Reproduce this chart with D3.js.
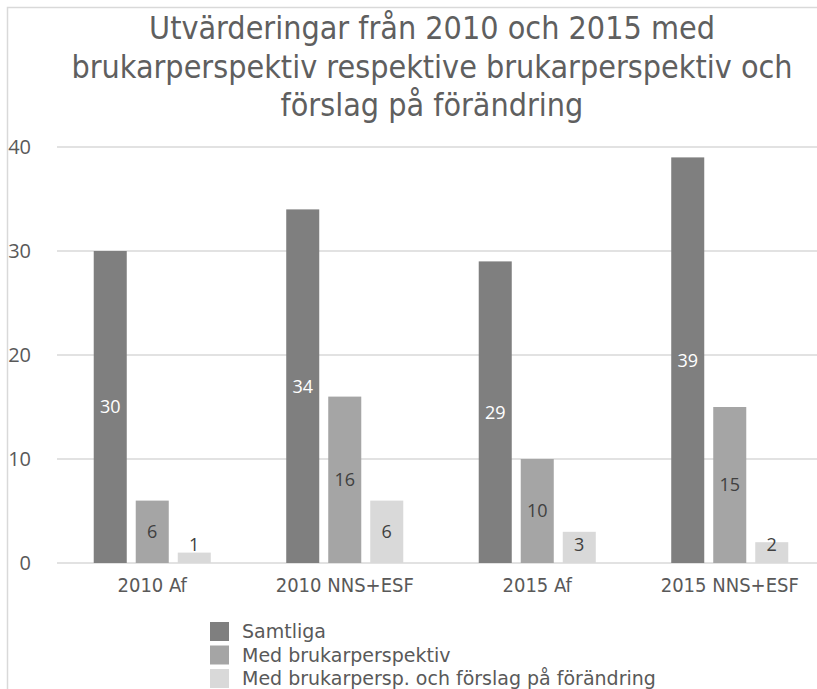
<!DOCTYPE html>
<html>
<head>
<meta charset="utf-8">
<script src="https://cdn.jsdelivr.net/npm/d3@7"></script>
<style>
  body { margin: 0; background: #fff; }
  svg { display: block; }
</style>
</head>
<body>
<div id="wrapper"></div>
<script>
// Data
const titleLines = [
  "Utvärderingar från 2010 och 2015 med",
  "brukarperspektiv respektive brukarperspektiv och",
  "förslag på förändring"
];
const categories = ["2010 Af", "2010 NNS+ESF", "2015 Af", "2015 NNS+ESF"];
const seriesNames = ["Samtliga", "Med brukarperspektiv", "Med brukarpersp. och förslag på förändring"];
const samtliga = [30, 34, 29, 39];
const medBrukarperspektiv = [6, 16, 10, 15];
const medForslag = [1, 6, 3, 2];
const yTicks = [0, 10, 20, 30, 40];

const seriesValues = [samtliga, medBrukarperspektiv, medForslag];
const colors = ["#7f7f7f", "#a5a5a5", "#d9d9d9"];
const labelColors = ["#ffffff", "#404040", "#404040"];

const narrowFont = "'Liberation Sans Narrow', 'DejaVu Sans Condensed', sans-serif";

const dimensions = { width: 817, height: 689 };

const svg = d3.select("#wrapper")
  .append("svg")
  .attr("width", dimensions.width)
  .attr("height", dimensions.height);

// chart area border (runs off the right/bottom of the crop)
svg.append("rect")
  .attr("x", 7.5).attr("y", 7.5)
  .attr("width", 900).attr("height", 900)
  .attr("fill", "none")
  .attr("stroke", "#d9d9d9")
  .attr("stroke-width", 1.5);

// Title
svg.append("text")
  .attr("text-anchor", "middle")
  .style("font-family", narrowFont)
  .style("font-size", "32px")
  .attr("fill", "#5f5f5f")
  .selectAll("tspan")
  .data(titleLines)
  .join("tspan")
  .attr("x", 432)
  .attr("y", (d, i) => 39 + i * 38.5)
  .text(d => d);

// Scales
const x0 = d3.scaleBand()
  .domain(categories)
  .range([56, 826])
  .paddingInner(0.392)
  .paddingOuter(0.196);

const x1 = d3.scaleBand()
  .domain(d3.range(seriesNames.length))
  .range([0, x0.bandwidth()])
  .paddingInner(0.214);

const yScale = d3.scaleLinear()
  .domain([0, 40])
  .range([563, 147]);

// Gridlines
svg.append("g")
  .selectAll("line")
  .data(yTicks)
  .join("line")
  .attr("x1", 57)
  .attr("x2", 817)
  .attr("y1", d => yScale(d))
  .attr("y2", d => yScale(d))
  .attr("stroke", "#d9d9d9")
  .attr("stroke-width", 1.5);

// Y tick labels
svg.append("g")
  .selectAll("text")
  .data(yTicks)
  .join("text")
  .attr("x", 31)
  .attr("y", d => yScale(d))
  .attr("dy", "0.35em")
  .attr("text-anchor", "end")
  .style("font-family", "'Open Sans', sans-serif")
  .style("font-size", "20px")
  .attr("fill", "#595959")
  .text(d => d);

// Bars
const groups = svg.append("g")
  .selectAll("g")
  .data(categories)
  .join("g")
  .attr("transform", d => `translate(${x0(d)},0)`);

groups.selectAll("rect")
  .data((c, ci) => seriesValues.map((vals, si) => ({ si, v: vals[ci] })))
  .join("rect")
  .attr("x", d => x1(d.si))
  .attr("width", x1.bandwidth())
  .attr("y", d => yScale(d.v))
  .attr("height", d => yScale(0) - yScale(d.v))
  .attr("fill", d => colors[d.si]);

// Data labels (centered, kept above the axis for small bars)
groups.selectAll("text")
  .data((c, ci) => seriesValues.map((vals, si) => ({ si, v: vals[ci] })))
  .join("text")
  .attr("x", d => x1(d.si) + x1.bandwidth() / 2)
  .attr("y", d => Math.min((yScale(d.v) + yScale(0)) / 2, yScale(0) - 18))
  .attr("dy", "0.35em")
  .attr("text-anchor", "middle")
  .style("font-family", "'Open Sans', sans-serif")
  .style("font-size", "18px")
  .attr("fill", d => labelColors[d.si])
  .text(d => d.v);

// X axis labels
svg.append("g")
  .selectAll("text")
  .data(categories)
  .join("text")
  .attr("x", d => x0(d) + x0.bandwidth() / 2)
  .attr("y", 592)
  .attr("text-anchor", "middle")
  .style("font-family", narrowFont)
  .style("font-size", "20px")
  .attr("fill", "#595959")
  .text(d => d);

// Legend
const legend = svg.append("g")
  .selectAll("g")
  .data(seriesNames)
  .join("g")
  .attr("transform", (d, i) => `translate(210, ${622 + i * 23.5})`);

legend.append("rect")
  .attr("width", 19)
  .attr("height", 19)
  .attr("fill", (d, i) => colors[i]);

legend.append("text")
  .attr("x", 32)
  .attr("y", 9.5)
  .attr("dy", "0.35em")
  .style("font-family", "'DejaVu Sans', sans-serif")
  .style("font-size", "19px")
  .attr("fill", "#595959")
  .text(d => d);
</script>
</body>
</html>
